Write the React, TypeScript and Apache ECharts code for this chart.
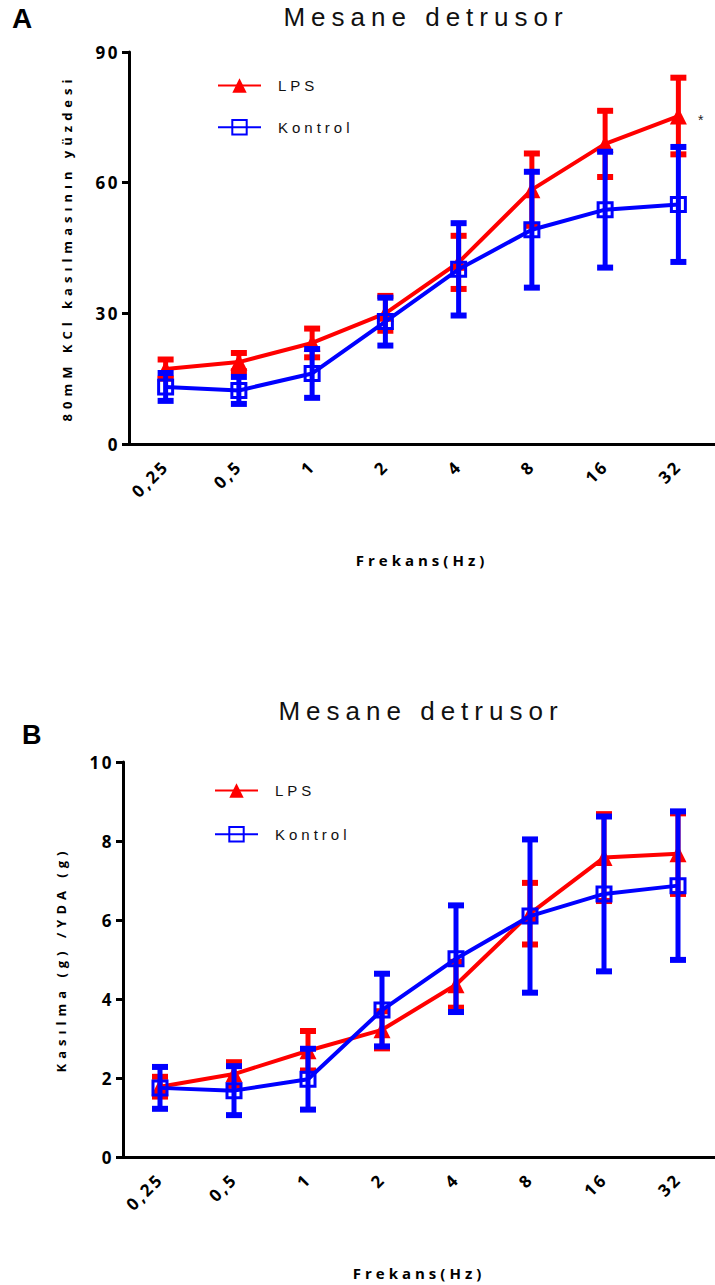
import React, { useEffect, useRef } from "react";
import * as echarts from "echarts";

const categories = ["0,25", "0,5", "1", "2", "4", "8", "16", "32"];

const lpsA = [17.2, 18.8, 23.2, 30.0, 41.7, 58.4, 68.9, 75.3];
const lpsAErr = [2.2, 2.1, 3.3, 4.0, 6.1, 8.3, 7.6, 8.8];
const konA = [13.1, 12.3, 16.2, 28.1, 40.1, 49.2, 53.8, 55.0];
const konAErr = [3.2, 3.1, 5.6, 5.5, 10.6, 13.3, 13.3, 13.2];

const lpsB = [1.78, 2.1, 2.69, 3.22, 4.36, 6.16, 7.58, 7.68];
const lpsBErr = [0.25, 0.3, 0.5, 0.47, 0.58, 0.78, 1.1, 1.02];
const konB = [1.75, 1.68, 1.97, 3.72, 5.02, 6.1, 6.66, 6.87];
const konBErr = [0.53, 0.62, 0.77, 0.92, 1.35, 1.94, 1.96, 1.88];

const RED = "#ff0000";
const BLUE = "#0000ff";
const FONT = "Open Sans";

const SPACING: Record<string, number> = {
  "Mesane detrusor": 6,
  LPS: 4,
  Kontrol: 4,
  "80mM KCl kasılmasının yüzdesi": 5,
  "Kasılma (g) /YDA (g)": 5,
  "Frekans(Hz)": 4,
};

function errData(mean: number[], err: number[]) {
  return mean.map((m, i) => [i, m - err[i], m + err[i]]);
}

function errRender(color: string) {
  return (params: any, api: any) => {
    const x = api.value(0);
    const lo = api.coord([x, api.value(1)]);
    const hi = api.coord([x, api.value(2)]);
    return {
      type: "group",
      children: [
        { type: "line", shape: { x1: lo[0], y1: lo[1], x2: hi[0], y2: hi[1] }, style: { stroke: color, lineWidth: 5 } },
        { type: "rect", shape: { x: hi[0] - 8, y: hi[1] - 3, width: 16, height: 6 }, style: { fill: color } },
        { type: "rect", shape: { x: lo[0] - 8, y: lo[1] - 3, width: 16, height: 6 }, style: { fill: color } },
      ],
    };
  };
}

function xAxisCfg(gridIndex: number) {
  return {
    gridIndex,
    type: "category",
    data: categories,
    boundaryGap: true,
    axisLine: { lineStyle: { color: "#000", width: 3 } },
    axisTick: { alignWithLabel: true, length: 8, lineStyle: { color: "#000", width: 3 } },
    axisLabel: { rotate: 45, fontSize: 17, fontWeight: "bold", color: "#000", margin: 19, fontFamily: FONT },
    name: "Frekans(Hz)",
    nameLocation: "middle",
    nameGap: 108,
    nameTextStyle: { fontSize: 15, fontWeight: "bold", color: "#000", fontFamily: FONT },
  };
}

function yAxisCfg(gridIndex: number, max: number, interval: number, name: string) {
  return {
    gridIndex,
    type: "value",
    min: 0,
    max,
    interval,
    axisLine: { show: true, lineStyle: { color: "#000", width: 3 } },
    axisTick: { show: true, length: 7, lineStyle: { color: "#000", width: 3 } },
    splitLine: { show: false },
    axisLabel: { fontSize: 17, fontWeight: "bold", color: "#000", margin: 9, fontFamily: FONT },
    name,
    nameLocation: "middle",
    nameGap: 56,
    nameRotate: 90,
    nameTextStyle: { fontSize: 13, fontWeight: "bold", color: "#000", fontFamily: FONT },
  };
}

function lineSeries(name: string, data: any[], color: string, symbol: string, idx: number, z: number) {
  const tri = symbol === "triangle";
  return {
    name,
    type: "line",
    xAxisIndex: idx,
    yAxisIndex: idx,
    data,
    symbol,
    symbolSize: tri ? 17 : 14,
    lineStyle: { color, width: 4 },
    itemStyle: tri
      ? { color }
      : { color: "rgba(255,255,255,0)", borderColor: color, borderWidth: 3 },
    z,
  };
}

export default function App() {
  const ref = useRef<HTMLDivElement>(null);
  useEffect(() => {
    document.body.style.margin = "0";
    const el = ref.current!;
    const chart = echarts.init(el, null, { renderer: "svg" });
    const lpsAData: any[] = lpsA.map((v, i) =>
      i === lpsA.length - 1
        ? { value: v, label: { show: true, formatter: "*", position: "right", offset: [6, 4], fontSize: 14, color: "#222" } }
        : v
    );
    const legendBase = {
      orient: "vertical",
      itemWidth: 43,
      itemHeight: 18,
      data: ["LPS", "Kontrol"],
      textStyle: { fontSize: 15, color: "#111", fontFamily: "Liberation Sans", padding: [0, 0, 0, 12] },
    };
    const applySpacing = () => {
      el.querySelectorAll("text").forEach((t) => {
        const s = (t.textContent || "").trim();
        let sp = SPACING[s];
        if (sp === undefined) {
          if (/^[0-9,]+$/.test(s)) sp = 2.5;
          else return;
        }
        (t as SVGTextElement).style.letterSpacing = sp + "px";
      });
    };
    chart.on("finished", applySpacing);
    chart.setOption({
      animation: false,
      grid: [
        { left: 129, top: 52, width: 592, height: 392 },
        { left: 123, top: 762, width: 592, height: 395 },
      ],
      xAxis: [xAxisCfg(0), xAxisCfg(1)],
      yAxis: [
        yAxisCfg(0, 90, 30, "80mM KCl kasılmasının yüzdesi"),
        yAxisCfg(1, 10, 2, "Kasılma (g) /YDA (g)"),
      ],
      legend: [
        { ...legendBase, left: 212, top: 73, itemGap: 26 },
        { ...legendBase, left: 209, top: 778, itemGap: 28 },
      ],
      graphic: [
        { type: "text", left: 12, top: 4, style: { text: "A", fontSize: 28, fontWeight: "bold", fill: "#000", fontFamily: "Liberation Sans" } },
        { type: "text", left: 22, top: 721, style: { text: "B", fontSize: 27, fontWeight: "bold", fill: "#000", fontFamily: "Liberation Sans" } },
        { type: "text", x: 426, y: 4, style: { text: "Mesane detrusor", fontSize: 26, fill: "#111", fontFamily: "Liberation Sans", textAlign: "center" } },
        { type: "text", x: 421, y: 698, style: { text: "Mesane detrusor", fontSize: 26, fill: "#111", fontFamily: "Liberation Sans", textAlign: "center" } },
      ],
      series: [
        { name: "LPS err A", type: "custom", xAxisIndex: 0, yAxisIndex: 0, renderItem: errRender(RED), data: errData(lpsA, lpsAErr), encode: { x: 0, y: [1, 2] }, z: 1 },
        lineSeries("LPS", lpsAData, RED, "triangle", 0, 2),
        { name: "Kontrol err A", type: "custom", xAxisIndex: 0, yAxisIndex: 0, renderItem: errRender(BLUE), data: errData(konA, konAErr), encode: { x: 0, y: [1, 2] }, z: 3 },
        lineSeries("Kontrol", konA, BLUE, "rect", 0, 4),
        { name: "LPS err B", type: "custom", xAxisIndex: 1, yAxisIndex: 1, renderItem: errRender(RED), data: errData(lpsB, lpsBErr), encode: { x: 0, y: [1, 2] }, z: 1 },
        lineSeries("LPS", lpsB, RED, "triangle", 1, 2),
        { name: "Kontrol err B", type: "custom", xAxisIndex: 1, yAxisIndex: 1, renderItem: errRender(BLUE), data: errData(konB, konBErr), encode: { x: 0, y: [1, 2] }, z: 3 },
        lineSeries("Kontrol", konB, BLUE, "rect", 1, 4),
      ],
    });
    applySpacing();
    return () => chart.dispose();
  }, []);
  return <div ref={ref} style={{ width: 715, height: 1285 }} />;
}
